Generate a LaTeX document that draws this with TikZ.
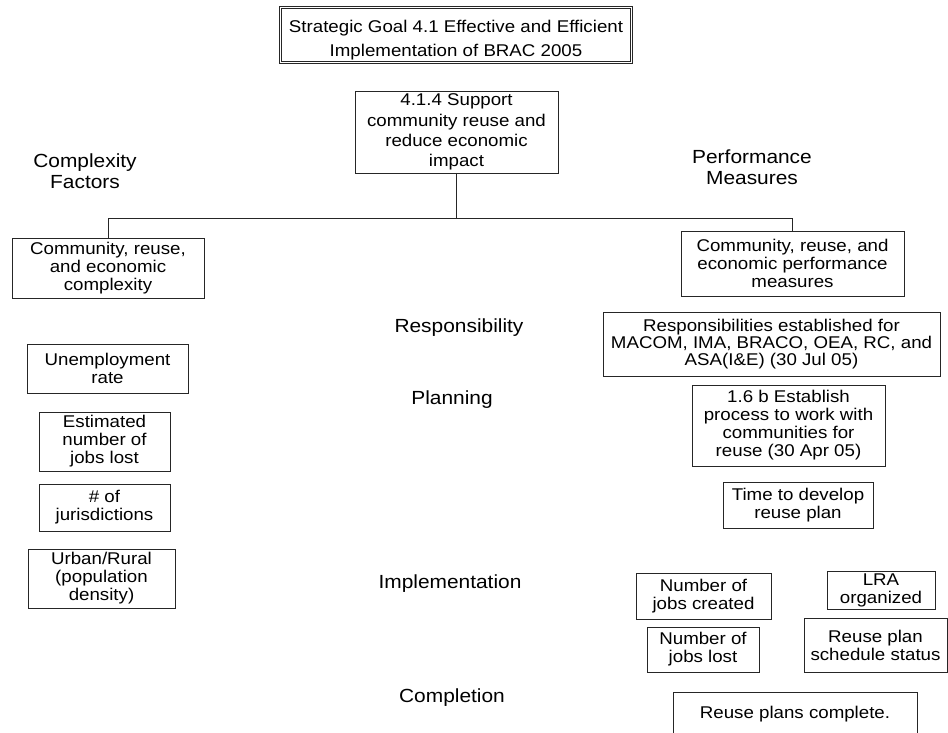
\documentclass[tikz,border=0pt]{standalone}
\usepackage{fontspec}
\setmainfont[FakeStretch=1.1]{Liberation Sans}
\begin{document}
\begin{tikzpicture}[x=1pt,y=-1pt,
  box/.style={draw=black!85,line width=0.8pt,inner sep=0pt,outer sep=0pt,align=center,
    font=\fontsize{17}{18}\selectfont},
  lab/.style={inner sep=0pt,align=center,font=\fontsize{19}{21.5}\selectfont},
  conn/.style={draw=black!85,line width=0.8pt}]
\path[use as bounding box] (0,0) rectangle (948,733);
\clip (0,0) rectangle (948,733);
\fill[white] (0,0) rectangle (948,733);

% top
\node[box,double,double distance=1.6pt,minimum width=351,minimum height=55,
  font=\fontsize{17}{24}\selectfont] (title) at (456,35)
  {\rule{0pt}{23pt}Strategic Goal 4.1 Effective and Efficient\\Implementation of BRAC 2005};
\node[box,minimum width=203,minimum height=82,font=\fontsize{17}{20.3}\selectfont]
  (b414) at (456.5,132) {4.1.4 Support\\community reuse and\\reduce economic\\impact};

% column headings and phase labels
\node[lab] (lcf) at (85,171) {Complexity\\Factors};
\node[lab] (lpm) at (752,167) {Performance\\Measures};
\node[lab] (lresp) at (459,328) {Responsibility};
\node[lab] (lplan) at (452,400) {Planning};
\node[lab] (limpl) at (450,584) {Implementation};
\node[lab] (lcomp) at (452,698) {Completion};

% second level
\node[box,minimum width=192,minimum height=60] (cfl) at (108,268)
  {Community, reuse,\\and economic\\complexity};
\node[box,minimum width=223,minimum height=65] (pmr) at (792.5,263.5)
  {Community, reuse, and\\economic performance\\measures};

% complexity factors
\node[box,minimum width=161,minimum height=49] (unemp) at (107.5,368.5) {Unemployment\\rate};
\node[box,minimum width=131,minimum height=59] (estjobs) at (104.5,441.5) {Estimated\\number of\\jobs lost};
\node[box,minimum width=131,minimum height=47] (juris) at (104.5,507.5) {\# of\\jurisdictions};
\node[box,minimum width=147,minimum height=59] (urban) at (101.5,578.5) {Urban/Rural\\(population\\density)};

% performance measures
\node[box,minimum width=337,minimum height=64,font=\fontsize{17}{16.8}\selectfont]
  (resp) at (771.5,344)
  {Responsibilities established for\\MACOM, IMA, BRACO, OEA, RC, and\\ASA(I\&E) (30 Jul 05)};
\node[box,minimum width=193,minimum height=81] (est16) at (788.5,425.5)
  {1.6 b Establish\\process to work with\\communities for\\reuse (30 Apr 05)};
\node[box,minimum width=150,minimum height=46] (timedev) at (798,505) {Time to develop\\reuse plan};
\node[box,minimum width=135,minimum height=46] (jcreated) at (703.5,596) {Number of\\jobs created};
\node[box,minimum width=112,minimum height=45] (jlost) at (703,649.5) {Number of\\jobs lost};
\node[box,minimum width=108,minimum height=38] (lra) at (881,590) {LRA\\organized};
\node[box,minimum width=143,minimum height=54] (rpss) at (875.5,645) {Reuse plan\\schedule status};
\node[box,minimum width=244,minimum height=44] (rpc) at (795,714) {Reuse plans complete.};

% connectors
\coordinate (jn) at (458,218);
\draw[conn] (b414.south) -- (b414.south |- jn);
\draw[conn] (cfl.north) -- (cfl.north |- jn) -- (pmr.north |- jn) -- (pmr.north);
\end{tikzpicture}
\end{document}
